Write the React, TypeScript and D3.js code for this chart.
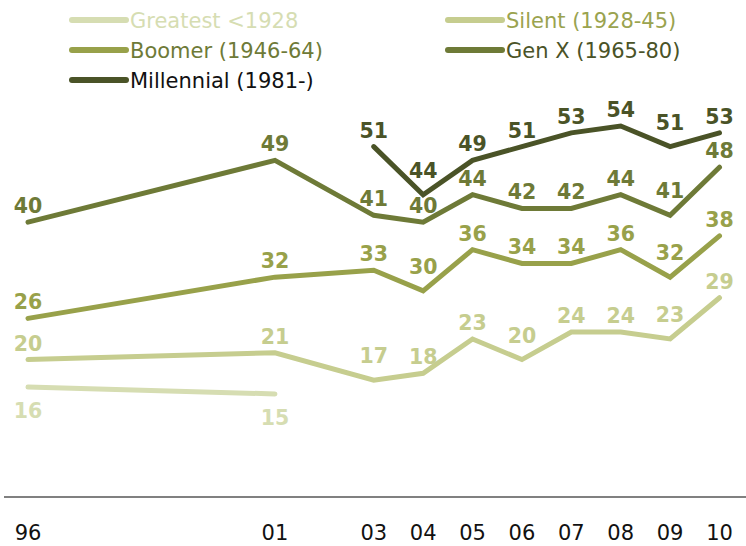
import React from "react";
import * as d3 from "d3";

const width = 746;
const height = 546;
const font = "'DejaVu Sans', Verdana, sans-serif";

// survey years and their axis labels
const years = [1996, 2001, 2003, 2004, 2005, 2006, 2007, 2008, 2009, 2010];
const yearLabels = ["96", "01", "03", "04", "05", "06", "07", "08", "09", "10"];

const greatestYears = [1996, 2001];
const greatest = [16, 15];
const silent = [20, 21, 17, 18, 23, 20, 24, 24, 23, 29];
const boomer = [26, 32, 33, 30, 36, 34, 34, 36, 32, 38];
const genX = [40, 49, 41, 40, 44, 42, 42, 44, 41, 48];
const millennialYears = [2003, 2004, 2005, 2006, 2007, 2008, 2009, 2010];
const millennial = [51, 44, 49, 51, 53, 54, 51, 53];

const seriesNames = [
  "Greatest <1928",
  "Silent (1928-45)",
  "Boomer (1946-64)",
  "Gen X (1965-80)",
  "Millennial (1981-)",
];

type Pt = { year: number; value: number };
const zip = (ys: number[], vs: number[]): Pt[] =>
  vs.map((v, i) => ({ year: ys[i], value: v }));

const series = [
  { name: seriesNames[0], data: zip(greatestYears, greatest), color: "#d6ddb2", text: "#d6ddb2", below: true },
  { name: seriesNames[1], data: zip(years, silent), color: "#c6cd8f", text: "#9aa34f", below: false },
  { name: seriesNames[2], data: zip(years, boomer), color: "#98a14a", text: "#6e7a37", below: false },
  { name: seriesNames[3], data: zip(years, genX), color: "#6e7a37", text: "#4a5327", below: false },
  { name: seriesNames[4], data: zip(millennialYears, millennial), color: "#4a5327", text: "#111111", below: false },
];

const xScale = d3.scaleLinear().domain([1996, 2010]).range([28, 719.5]);
const yScale = d3.scaleLinear().domain([0, 54]).range([497, 126]);

const lineGen = d3
  .line<Pt>()
  .x(d => xScale(d.year))
  .y(d => yScale(d.value));

// labels sit higher over dips so they clear the line,
// unless the next series up is too close above
const labelOffset = (si: number, i: number) => {
  const s = series[si];
  if (s.below) return 31;
  const data = s.data;
  const prev = data[i - 1], next = data[i + 1];
  const dip = prev && next && data[i].value < prev.value && data[i].value < next.value;
  const upper = series[si + 1] && series[si + 1].data.find(p => p.year === data[i].year);
  const crowded = upper && yScale(data[i].value) - yScale(upper.value) < 35;
  return dip && !crowded ? -17 : -9;
};

// legend slots: two columns, three rows
const legendX = [72, 448];
const legendY = [20, 50, 80];

export default function App() {
  return (
    <svg
      width={width}
      height={height}
      style={{ position: "absolute", left: 0, top: 0, background: "#fff" }}
    >
      {/* legend */}
      {series.map((s, i) => {
        const lx = legendX[i % 2];
        const ly = legendY[Math.floor(i / 2)];
        return (
          <g key={s.name}>
            <line
              x1={lx}
              x2={lx + 54}
              y1={ly}
              y2={ly}
              stroke={s.color}
              strokeWidth={6}
              strokeLinecap="round"
            />
            <text x={lx + 58} y={ly + 7.5} fontFamily={font} fontSize={21} fill={s.text}>
              {s.name}
            </text>
          </g>
        );
      })}

      {/* baseline */}
      <line x1={4} x2={width} y1={yScale(0)} y2={yScale(0)} stroke="#808080" strokeWidth={2} />

      {/* series lines */}
      {series.map(s => (
        <path
          key={s.name}
          d={lineGen(s.data) || ""}
          fill="none"
          stroke={s.color}
          strokeWidth={5}
          strokeLinecap="round"
          strokeLinejoin="miter"
        />
      ))}

      {/* value labels */}
      {series.map((s, si) =>
        s.data.map((d, i) => (
          <text
            key={s.name + d.year}
            x={xScale(d.year)}
            y={yScale(d.value) + labelOffset(si, i)}
            textAnchor="middle"
            fontFamily={font}
            fontWeight="bold"
            fontSize={20.5}
            fill={s.color}
          >
            {d.value}
          </text>
        ))
      )}

      {/* x axis labels */}
      {years.map((y, i) => (
        <text
          key={y}
          x={xScale(y)}
          y={540}
          textAnchor="middle"
          fontFamily={font}
          fontSize={21}
          fill="#111"
        >
          {yearLabels[i]}
        </text>
      ))}
    </svg>
  );
}
